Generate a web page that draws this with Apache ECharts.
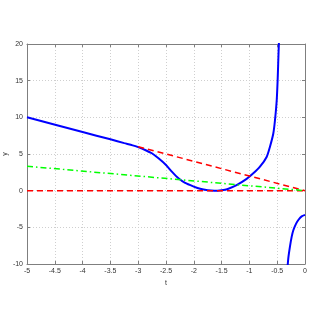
<!DOCTYPE html>
<html>
<head>
<meta charset="utf-8">
<script src="https://cdn.jsdelivr.net/npm/echarts@6/dist/echarts.min.js"></script>
<style>html,body{margin:0;padding:0;background:#fff;}#c{width:314px;height:319px;}</style>
</head>
<body>
<div id="c"></div>
<script>
// Data
var tBlueUpper = [-5, -4, -3.5, -3.25, -3.1, -3.0, -2.875, -2.755, -2.635, -2.5, -2.395, -2.276, -2.156, -2.0, -1.886, -1.75, -1.63, -1.5, -1.4, -1.23, -1.05, -0.93, -0.81, -0.69, -0.63, -0.57, -0.54, -0.508, -0.49, -0.475, -0.46];
var yBlueUpper = [10, 8, 7, 6.48, 6.18, 5.93, 5.55, 5.1, 4.41, 3.5, 2.59, 1.68, 1.05, 0.55, 0.25, 0.06, 0.0, 0.07, 0.2, 0.75, 1.6, 2.36, 3.27, 4.6, 6.0, 7.8, 9.6, 12.4, 15.5, 19, 22];
var tBlueLower = [-0.33, -0.318, -0.3, -0.27, -0.24, -0.21, -0.16, -0.12, -0.06, 0];
var yBlueLower = [-12, -10.8, -9.2, -7.6, -6.3, -5.4, -4.5, -4.0, -3.5, -3.3];
var tRedZero = [-5, 0];
var yRedZero = [0, 0];
var tRedSlope = [-3, 0];
var yRedSlope = [6, 0];
var tGreen = [-5, 0];
var yGreen = [3.333, 0];
var xTicks = [-5, -4.5, -4, -3.5, -3, -2.5, -2, -1.5, -1, -0.5, 0];
var yTicks = [-10, -5, 0, 5, 10, 15, 20];

function pairs(t, y) { return t.map(function (v, i) { return [v, y[i]]; }); }

var axisColor = '#7f7f7f';
var font = 'Liberation Sans, Arial, sans-serif';
var chart = echarts.init(document.getElementById('c'), null, {renderer: 'canvas'});
var xMin = xTicks[0], xMax = xTicks[xTicks.length - 1];
var yMin = yTicks[0], yMax = yTicks[yTicks.length - 1];
chart.setOption({
  animation: false,
  backgroundColor: '#fff',
  grid: {left: 27, right: 9, top: 44, bottom: 55, containLabel: false, outerBoundsMode: 'none'},
  xAxis: [{
    type: 'value', min: xMin, max: xMax, interval: 0.5, position: 'bottom',
    name: 't', nameLocation: 'middle', nameGap: 10,
    nameTextStyle: {fontSize: 7, color: '#333', fontFamily: font},
    axisLine: {show: true, onZero: false, lineStyle: {color: axisColor, width: 1}},
    axisTick: {show: true, inside: true, length: 3, lineStyle: {color: axisColor}},
    axisLabel: {fontSize: 7, color: '#333', fontFamily: font, margin: 4,
      formatter: function (v) { return String(Math.round(v * 10) / 10); }},
    splitLine: {show: true, lineStyle: {color: '#cfcfcf', type: [1, 2], width: 1}}
  }, {
    type: 'value', min: xMin, max: xMax, interval: 0.5, position: 'top',
    axisLine: {show: true, onZero: false, lineStyle: {color: axisColor, width: 1}},
    axisTick: {show: true, inside: true, length: 3, lineStyle: {color: axisColor}},
    axisLabel: {show: false}, splitLine: {show: false}
  }],
  yAxis: [{
    type: 'value', min: yMin, max: yMax, interval: 5, position: 'left',
    name: 'y', nameLocation: 'middle', nameGap: 18, nameRotate: 90, nameMoveOverlap: false,
    nameTextStyle: {fontSize: 7, color: '#333', fontFamily: font},
    axisLine: {show: true, onZero: false, lineStyle: {color: axisColor, width: 1}},
    axisTick: {show: true, inside: true, length: 3, lineStyle: {color: axisColor}},
    axisLabel: {fontSize: 7, color: '#333', fontFamily: font, margin: 4},
    splitLine: {show: true, lineStyle: {color: '#cfcfcf', type: [1, 2], width: 1}}
  }, {
    type: 'value', min: yMin, max: yMax, interval: 5, position: 'right',
    axisLine: {show: true, onZero: false, lineStyle: {color: axisColor, width: 1}},
    axisTick: {show: true, inside: true, length: 3, lineStyle: {color: axisColor}},
    axisLabel: {show: false}, splitLine: {show: false}
  }],
  series: [
    {type: 'line', data: pairs(tBlueUpper, yBlueUpper), showSymbol: false, smooth: 0.25, clip: true,
      lineStyle: {color: '#0000ff', width: 2}, z: 2},
    {type: 'line', data: pairs(tBlueLower, yBlueLower), showSymbol: false, smooth: 0.25, clip: true,
      lineStyle: {color: '#0000ff', width: 2}, z: 2},
    {type: 'line', data: pairs(tRedZero, yRedZero), showSymbol: false, clip: true,
      lineStyle: {color: '#ff0000', width: 1.5, type: [6, 4]}, z: 3},
    {type: 'line', data: pairs(tRedSlope, yRedSlope), showSymbol: false, clip: true,
      lineStyle: {color: '#ff0000', width: 1.5, type: [6, 4]}, z: 3},
    {type: 'line', data: pairs(tGreen, yGreen), showSymbol: false, clip: true,
      lineStyle: {color: '#00ff00', width: 1.5, type: [6, 3, 1.5, 3]}, z: 3}
  ]
});
</script>
</body>
</html>
